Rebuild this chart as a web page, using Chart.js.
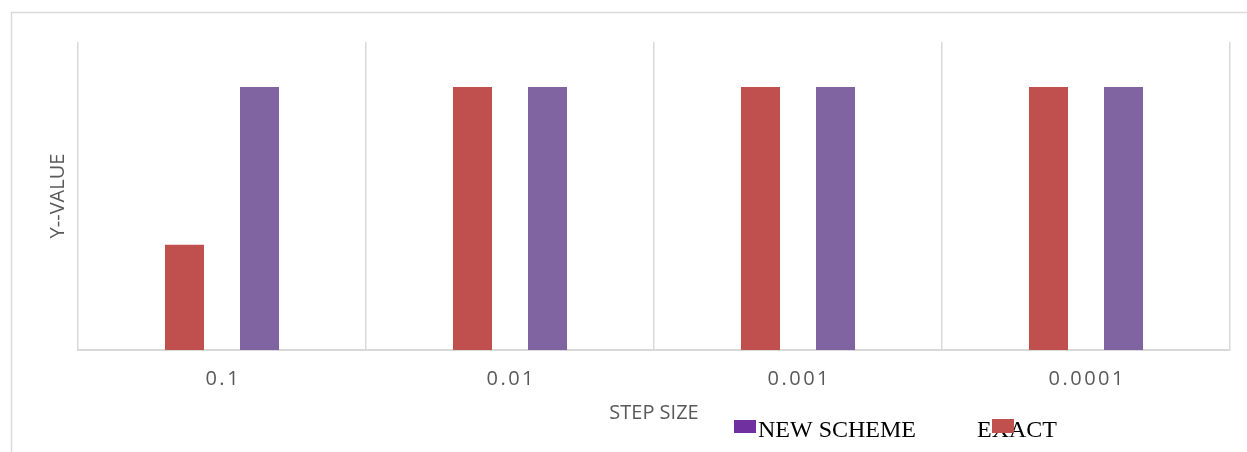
<!DOCTYPE html>
<html>
<head>
<meta charset="utf-8">
<script src="https://cdn.jsdelivr.net/npm/chart.js@4/dist/chart.umd.min.js"></script>
<style>
  html, body { margin: 0; padding: 0; background: #ffffff; overflow: hidden; }
  #wrap { position: relative; width: 1247px; height: 452px; }
</style>
</head>
<body>
<div id="wrap"><canvas id="chart" width="1247" height="452"></canvas></div>
<script>
// Step sizes along the x axis
const stepSizes = ['0.1', '0.01', '0.001', '0.0001'];
// Y values of the exact solution and of the new scheme
const exactValues = [0.41, 1.025, 1.025, 1.025];
const newSchemeValues = [1.025, 1.025, 1.025, 1.025];
const yMax = 1.2;

const seriesNames = { exact: 'EXACT', scheme: 'NEW SCHEME' };
const colors = {
  exact: '#C0504D',
  scheme: '#8064A2',
  schemeKey: '#7030A0',
  grid: '#D9D9D9',
  text: '#595959'
};

// Outer frame, spaced tick labels and the bottom key
const decorations = {
  id: 'decorations',
  beforeDraw(chart) {
    const ctx = chart.ctx;
    ctx.save();
    ctx.strokeStyle = colors.grid;
    ctx.lineWidth = 1.5;
    ctx.beginPath();
    ctx.moveTo(11.5, 452);
    ctx.lineTo(11.5, 12.5);
    ctx.lineTo(1247, 12.5);
    ctx.stroke();
    ctx.restore();
  },
  afterDraw(chart) {
    const ctx = chart.ctx;
    const x = chart.scales.x;
    ctx.save();
    ctx.font = '20px "Open Sans"';
    ctx.fillStyle = colors.text;
    ctx.textAlign = 'center';
    ctx.textBaseline = 'alphabetic';
    ctx.letterSpacing = '2.5px';
    stepSizes.forEach((lab, i) => {
      ctx.fillText(lab, x.getPixelForTick(i) + 1.25, 385);
    });
    ctx.letterSpacing = '0px';

    // key: NEW SCHEME, then EXACT (swatch drawn over the text)
    ctx.font = '24px "Liberation Serif"';
    ctx.fillStyle = '#000000';
    ctx.textAlign = 'left';
    ctx.fillText(seriesNames.scheme, 758, 437);
    ctx.fillText(seriesNames.exact, 977, 437);
    ctx.fillStyle = colors.schemeKey;
    ctx.fillRect(734, 420, 22, 13);
    ctx.fillStyle = colors.exact;
    ctx.fillRect(992, 419, 22, 14);
    ctx.restore();
  }
};

new Chart(document.getElementById('chart'), {
  type: 'bar',
  data: {
    labels: stepSizes,
    datasets: [
      {
        label: seriesNames.exact,
        data: exactValues,
        backgroundColor: colors.exact,
        categoryPercentage: 0.521,
        barPercentage: 0.52
      },
      {
        label: seriesNames.scheme,
        data: newSchemeValues,
        backgroundColor: colors.scheme,
        categoryPercentage: 0.521,
        barPercentage: 0.52
      }
    ]
  },
  options: {
    responsive: false,
    animation: false,
    devicePixelRatio: 1,
    layout: { padding: { top: 42, right: 17, left: 0, bottom: 0 } },
    plugins: {
      legend: { display: false },
      tooltip: { enabled: false }
    },
    scales: {
      x: {
        grid: { display: true, color: colors.grid, lineWidth: 1.5, drawTicks: false, offset: true },
        border: { display: true, color: colors.grid, width: 2 },
        ticks: { display: false },
        title: {
          display: true,
          text: 'STEP SIZE',
          color: colors.text,
          font: { family: '"Open Sans"', size: 20 },
          padding: { top: 0, bottom: 27 }
        },
        afterFit(scale) { scale.height = 102; }
      },
      y: {
        min: 0,
        max: yMax,
        grid: { display: false },
        border: { display: false },
        ticks: { display: false },
        title: {
          display: true,
          text: 'Y--VALUE',
          color: colors.text,
          font: { family: '"Open Sans"', size: 20 },
          padding: { top: 46, bottom: 0 }
        },
        afterFit(scale) { scale.width = 78; }
      }
    }
  },
  plugins: [decorations]
});
</script>
</body>
</html>
